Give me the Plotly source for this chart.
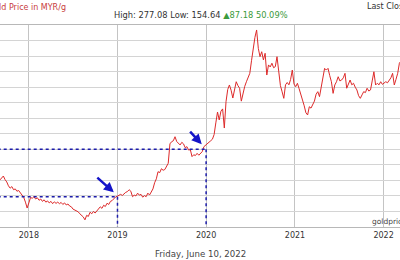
import plotly.graph_objects as go
import pandas as pd

# Weekly gold price in MYR/g, starting 2017-09-04
start_date = "2017-09-04"
prices = [
    180.3, 181.5, 182.8, 180.5, 179.0, 176.5, 175.0, 176.0, 174.0, 174.5,
    173.0, 173.5, 172.0, 170.5, 169.0, 166.0, 162.2, 165.5, 169.0, 168.5,
    169.5, 168.0, 168.8, 167.2, 168.0, 166.5, 167.5, 166.0, 166.8, 165.5,
    166.5, 165.0, 166.2, 165.2, 166.0, 165.0, 165.8, 164.5, 165.5, 164.2,
    164.8, 163.5, 163.0, 161.5, 161.0, 160.0, 159.8, 158.5, 157.5, 156.5,
    154.6, 157.5, 156.8, 159.5, 158.5, 160.0, 159.0, 160.5, 161.5, 163.0,
    162.0, 164.0, 163.2, 165.3, 164.5, 166.5, 167.0, 168.5, 169.3, 169.8,
    170.2, 171.0, 170.3, 171.5, 172.3, 172.8, 174.0, 173.0, 169.5, 170.5,
    170.0, 171.8, 170.5, 171.0, 169.2, 170.2, 169.5, 171.8, 170.6, 172.5,
    174.5, 178.5, 181.0, 185.6, 185.0, 187.5, 186.5, 187.0, 189.0, 191.0,
    203.5, 204.9, 205.5, 208.1, 205.0, 203.5, 202.8, 204.5, 203.5, 201.0,
    201.7, 199.5, 199.8, 195.3, 196.5, 196.0, 197.4, 196.2, 197.4, 198.5,
    201.7, 202.5, 203.9, 204.5, 205.5, 206.5, 209.5, 217.0, 224.0, 218.9,
    224.5, 226.0, 213.7, 230.7, 238.5, 241.4, 238.0, 233.0, 238.5, 243.5,
    241.0, 239.3, 231.0, 237.1, 240.5, 243.5, 246.0, 248.9, 257.0, 266.1,
    272.0, 276.8, 265.0, 259.6, 262.8, 257.5, 261.8, 247.8, 254.3, 253.0,
    255.4, 252.5, 253.2, 259.6, 248.0, 241.0, 237.0, 232.8, 241.5, 243.0,
    241.5, 245.0, 251.0, 242.0, 240.3, 242.5, 239.0, 236.0, 231.7, 228.0,
    223.5, 222.1, 227.4, 226.5, 228.5, 231.0, 235.5, 237.1, 233.9, 240.0,
    248.0, 252.1, 251.0, 252.1, 247.5, 243.5, 236.0, 241.4, 243.5, 246.7,
    244.0, 244.6, 246.0, 248.9, 239.3, 242.0, 244.6, 241.5, 242.5, 240.0,
    238.2, 234.5, 232.8, 235.0, 237.1, 236.5, 239.3, 237.5, 238.2, 244.0,
    249.9, 241.4, 242.5, 241.5, 243.5, 241.8, 242.5, 243.5, 242.8, 244.6,
    246.0, 248.9, 241.4, 245.0, 248.9, 255.4, 257.0,
]
dates = pd.date_range(start_date, periods=len(prices), freq="7D")

# Marked points (start of 2019 and 2020)
mark_dates = ["2019-01-01", "2020-01-01"]
mark_values = [169.5, 200.0]

title_text = "Gold Price in MYR/g"
stats_text = "High: 277.08 Low: 154.64"
change_text = "▲87.18 50.09%"
last_text = "Last Close: 261.23"
date_text = "Friday, June 10, 2022"
brand_text = "goldprice.org"

FONT = "DejaVu Sans"

fig = go.Figure()
fig.add_trace(go.Scatter(
    x=dates, y=prices, mode="lines",
    line=dict(color="#dd2a2a", width=1),
    hoverinfo="skip", showlegend=False,
))

for d, v in zip(mark_dates, mark_values):
    fig.add_shape(type="line", xref="x", yref="y",
                  x0="2017-08-01", x1=d, y0=v, y1=v,
                  line=dict(color="#1c1caa", width=1.5, dash="dot"))
    fig.add_shape(type="line", xref="x", yref="y",
                  x0=d, x1=d, y0=v, y1=150,
                  line=dict(color="#1c1caa", width=1.5, dash="dot"))

# arrows pointing at the marked points
fig.add_annotation(x="2018-12-17", y=172.3, xref="x", yref="y",
                   ax=-18, ay=-16, text="", showarrow=True,
                   arrowhead=2, arrowsize=0.8, arrowwidth=2.5, arrowcolor="#1414c8")
fig.add_annotation(x="2019-12-14", y=203.3, xref="x", yref="y",
                   ax=-13, ay=-14, text="", showarrow=True,
                   arrowhead=2, arrowsize=0.8, arrowwidth=2.5, arrowcolor="#1414c8")

fig.add_annotation(x=68/400, y=1.089, xref="paper", yref="paper",
                   xanchor="right", yanchor="middle", showarrow=False,
                   text=title_text, font=dict(family=FONT, size=8, color="#c83c3c"))
fig.add_annotation(x=200.5/400, y=1.050, xref="paper", yref="paper",
                   xanchor="center", yanchor="middle", showarrow=False,
                   text=f"{stats_text} <span style='color:#3c9a3c'>{change_text}</span>",
                   font=dict(family=FONT, size=8.3, color="#333333"))
fig.add_annotation(x=365/400, y=1.094, xref="paper", yref="paper",
                   xanchor="left", yanchor="middle", showarrow=False,
                   text=last_text, font=dict(family=FONT, size=8, color="#333333"))
fig.add_annotation(x=0.5, y=(227-254)/202, xref="paper", yref="paper",
                   xanchor="center", yanchor="middle", showarrow=False,
                   text=date_text, font=dict(family=FONT, size=8.6, color="#444444"))
fig.add_annotation(x=370/400, y=(227-221)/202, xref="paper", yref="paper",
                   xanchor="left", yanchor="middle", showarrow=False,
                   text=brand_text, font=dict(family=FONT, size=7.5, color="#444444"))

fig.update_xaxes(
    type="date",
    range=["2017-09-04 04:48", "2022-03-09 12:00"],
    tick0="2018-01-01", dtick="M12", tickformat="%Y",
    showgrid=True, gridcolor="#c4c4c4", gridwidth=1,
    showline=True, linecolor="#b8b8b8", linewidth=1, mirror=True,
    ticks="", tickfont=dict(family=FONT, size=8, color="#333333"),
    zeroline=False, fixedrange=True,
)
fig.update_yaxes(
    range=[150, 280], dtick=10, tick0=150,
    showgrid=True, gridcolor="#d4d4d4", gridwidth=1,
    showticklabels=False, showline=False, zeroline=False, ticks="",
)
fig.update_layout(
    width=400, height=260,
    margin=dict(l=0, r=0, t=25, b=33),
    plot_bgcolor="#ffffff", paper_bgcolor="#ffffff",
    font=dict(family=FONT),
)
fig.write_html("out.html", config={"displayModeBar": False})
